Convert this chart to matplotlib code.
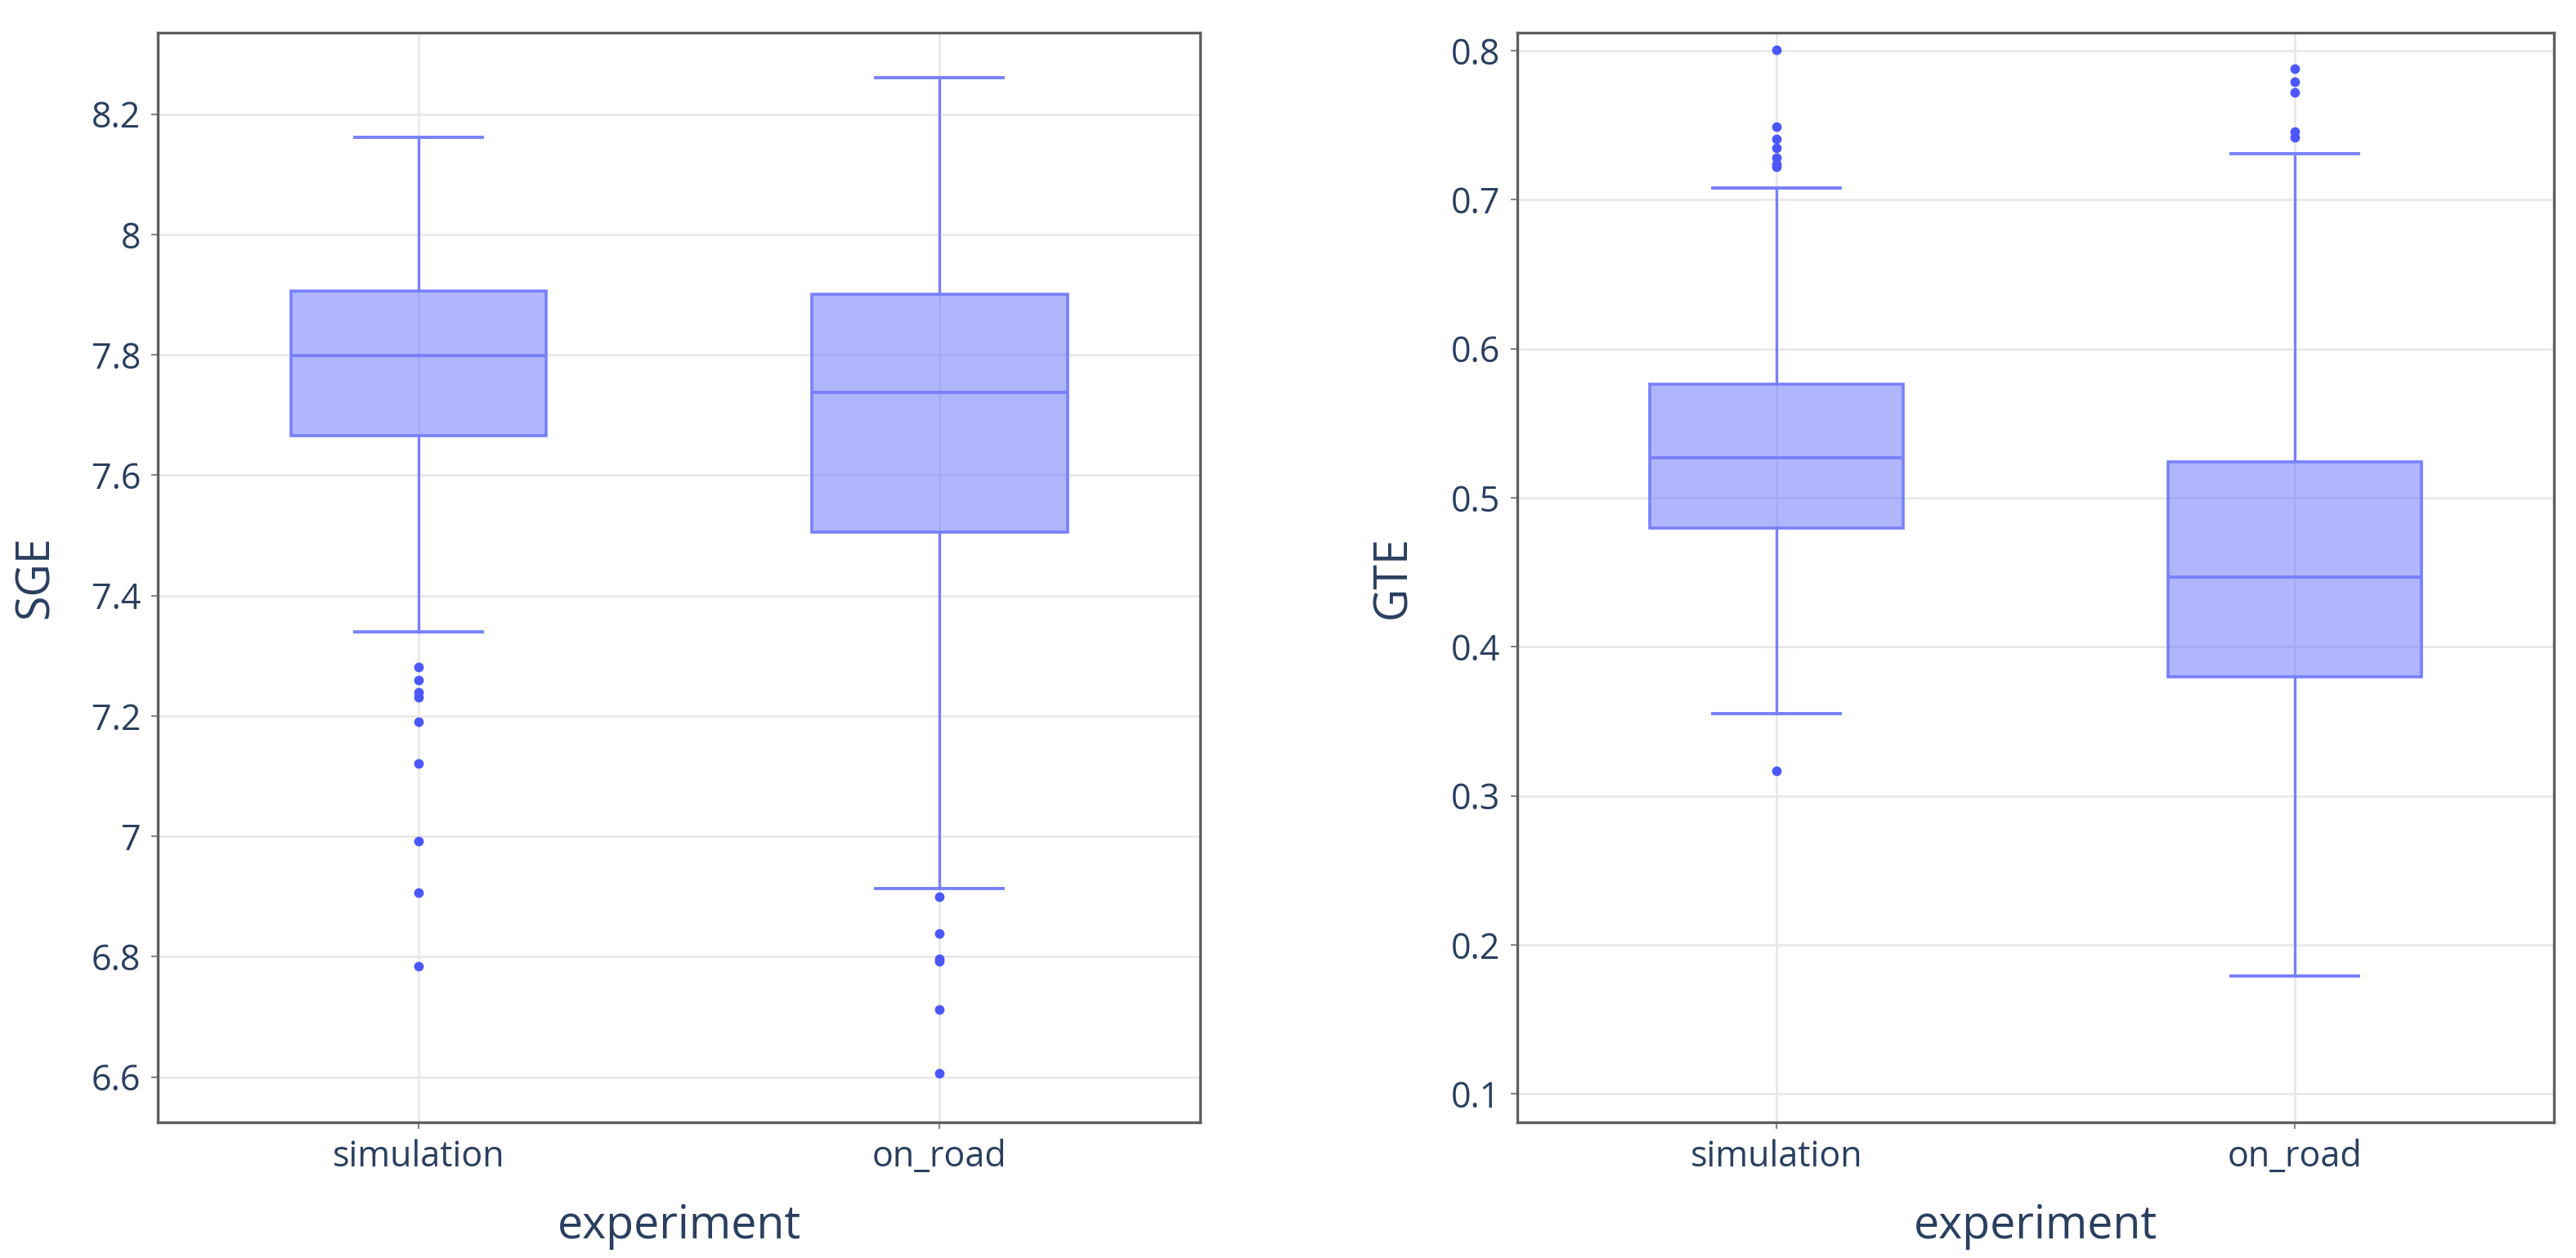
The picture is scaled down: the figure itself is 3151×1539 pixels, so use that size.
import matplotlib
matplotlib.use("Agg")
import matplotlib.pyplot as plt

# =========================
# Data
# =========================
categories = ["simulation", "on_road"]

# SGE boxes: whislo, q1, med, q3, whishi
sge_sim = [7.340, 7.666, 7.799, 7.906, 8.161]
sge_sim_out = [7.281, 7.259, 7.239, 7.231, 7.191, 7.121, 6.992, 6.906, 6.784]
sge_road = [6.913, 7.505, 7.737, 7.900, 8.261]
sge_road_out = [6.900, 6.839, 6.797, 6.792, 6.713, 6.606]

# GTE boxes
gte_sim = [0.355, 0.4796, 0.5268, 0.5765, 0.708]
gte_sim_out = [0.8005, 0.749, 0.741, 0.735, 0.728, 0.724, 0.722, 0.317]
gte_road = [0.179, 0.380, 0.447, 0.524, 0.731]
gte_road_out = [0.788, 0.779, 0.772, 0.746, 0.742]

sge_ticks = [6.6, 6.8, 7.0, 7.2, 7.4, 7.6, 7.8, 8.0, 8.2]
sge_ticklabels = ["6.6", "6.8", "7", "7.2", "7.4", "7.6", "7.8", "8", "8.2"]
gte_ticks = [0.1, 0.2, 0.3, 0.4, 0.5, 0.6, 0.7, 0.8]
gte_ticklabels = ["0.1", "0.2", "0.3", "0.4", "0.5", "0.6", "0.7", "0.8"]

# =========================
# Style
# =========================
plt.rcParams["font.family"] = ["Open Sans", "DejaVu Sans"]
TXT = "#2a3f5f"
LINE = "#7880fb"
FILL = (99 / 255, 110 / 255, 250 / 255, 0.5)
DOT = "#4b57fa"


def make_stats(box, fliers, label):
    lo, q1, med, q3, hi = box
    return dict(whislo=lo, q1=q1, med=med, q3=q3, whishi=hi,
                fliers=fliers, label=label)


def draw_panel(ax, boxes, outs, ylim, ticks, ticklabels, ylabel, ylab_x):
    stats = [make_stats(b, o, c) for b, o, c in zip(boxes, outs, categories)]
    ax.bxp(
        stats,
        positions=[0, 1],
        widths=0.49,
        capwidths=0.245,
        patch_artist=True,
        showfliers=True,
        boxprops=dict(facecolor=FILL, edgecolor=LINE, linewidth=2.6),
        medianprops=dict(color=LINE, linewidth=2.8),
        whiskerprops=dict(color=LINE, linewidth=2.4),
        capprops=dict(color=LINE, linewidth=2.8),
        flierprops=dict(marker="o", markersize=8.5, markerfacecolor=DOT,
                        markeredgecolor="none"),
    )
    ax.set_xlim(-0.5, 1.5)
    ax.set_ylim(*ylim)
    ax.set_xticks([0, 1])
    ax.set_xticklabels(categories)
    ax.set_yticks(ticks)
    ax.set_yticklabels(ticklabels)

    ax.set_axisbelow(True)
    ax.grid(True, color="#e9e9e9", linewidth=2.0)
    for s in ax.spines.values():
        s.set_color("#5f5f5f")
        s.set_linewidth(2.4)
    ax.tick_params(axis="both", labelsize=31, labelcolor=TXT, color="#888888",
                   length=6, width=1.5, pad=9)

    ax.set_ylabel(ylabel, fontsize=40, color=TXT, va="center")
    ax.yaxis.set_label_coords(ylab_x, 0.5)
    ax.set_xlabel("experiment", fontsize=40, color=TXT)
    ax.xaxis.set_label_coords(0.5, -0.074)


# =========================
# Plot
# =========================
fig = plt.figure(figsize=(31.51, 15.39), dpi=100)
ax1 = fig.add_axes([0.0613, 0.1079, 0.4046, 0.866])
ax2 = fig.add_axes([0.589, 0.1079, 0.4024, 0.866])

draw_panel(ax1, [sge_sim, sge_road], [sge_sim_out, sge_road_out],
           (6.525, 8.335), sge_ticks, sge_ticklabels, "SGE", -0.117)
draw_panel(ax2, [gte_sim, gte_road], [gte_sim_out, gte_road_out],
           (0.081, 0.812), gte_ticks, gte_ticklabels, "GTE", -0.119)

fig.savefig("out.png", dpi=100, facecolor="white")
